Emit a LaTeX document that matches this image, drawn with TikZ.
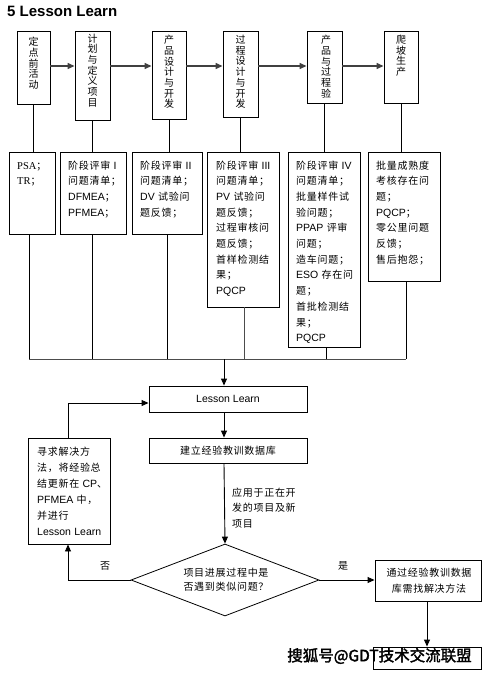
\documentclass[tikz,border=0pt]{standalone}
\usepackage{fontspec}
\setmainfont{Noto Sans CJK SC}[LetterSpace=7]
\newfontfamily\enf{Liberation Sans}
\newfontfamily\tmf{Liberation Serif}
\newfontfamily\wmf{Noto Sans CJK SC}[FakeBold=2]
\usetikzlibrary{arrows.meta,shapes.geometric}
\newcommand\enx[1]{{\enf\fontsize{10.5}{15.7}\selectfont #1}}
\begin{document}
\begin{tikzpicture}[x=1pt,y=-1pt,
  box/.style={draw, line width=0.9pt, inner sep=0pt},
  vtxt/.style={anchor=north, inner sep=0pt, align=center, font=\fontsize{10}{10.7}\selectfont},
  ltxt/.style={anchor=base west, inner sep=0pt, align=left, text width=#1, font=\fontsize{10}{15.7}\selectfont},
  ln/.style={line width=0.9pt},
  arr/.style={line width=0.9pt, -{Triangle[length=7pt,width=6pt]}},
  harr/.style={line width=1.5pt, draw=black!75, -{Triangle[length=7pt,width=6pt]}},
  ctxt/.style={inner sep=0pt, align=center, font=\fontsize{10}{#1}\selectfont},
]
\path[use as bounding box] (0,0) rectangle (488,673);

% title
\node[anchor=base west, inner sep=0pt, font=\enf\bfseries\fontsize{15}{18}\selectfont] (title) at (7,16.5) {5 Lesson Learn};

% top row boxes
\node[box, minimum width=33, minimum height=73] (b1) at (33.5,67.5) {};
\node[box, minimum width=35, minimum height=89] (b2) at (92.5,75.5) {};
\node[box, minimum width=34, minimum height=88] (b3) at (169,75) {};
\node[box, minimum width=35, minimum height=86] (b4) at (240.5,74) {};
\node[box, minimum width=35, minimum height=72] (b5) at (324.5,67) {};
\node[box, minimum width=34, minimum height=72] (b6) at (401,67) {};
\node[vtxt] (t1) at (33.5,37) {定\\点\\前\\活\\动};
\node[vtxt] (t2) at (92.5,33.5) {计\\划\\与\\定\\义\\项\\目};
\node[vtxt] (t3) at (169,35) {产\\品\\设\\计\\与\\开\\发};
\node[vtxt] (t4) at (240.5,35) {过\\程\\设\\计\\与\\开\\发};
\node[vtxt] (t5) at (326,35) {产\\品\\与\\过\\程\\验};
\node[vtxt] (t6) at (401,35) {爬\\坡\\生\\产};

\coordinate (ay) at (0,66);
\draw[harr] (b1.east |- ay) -- (b2.west |- ay);
\draw[harr] (b2.east |- ay) -- (b3.west |- ay);
\draw[harr] (b3.east |- ay) -- (b4.west |- ay);
\draw[harr] (b4.east |- ay) -- (b5.west |- ay);
\draw[harr] (b5.east |- ay) -- (b6.west |- ay);

% second row boxes
\node[box, minimum width=46, minimum height=82] (rA) at (32,193) {};
\node[box, minimum width=66, minimum height=82] (rB) at (93,193) {};
\node[box, minimum width=70, minimum height=82] (rC) at (167,193) {};
\node[box, minimum width=72, minimum height=155] (rD) at (243,229.5) {};
\node[box, minimum width=72, minimum height=195] (rE) at (324,249.5) {};
\node[box, minimum width=72, minimum height=129] (rF) at (404,216.5) {};

\draw[ln] (b1.south) -- (b1.south |- rA.north);
\draw[ln] (b2.south) -- (b2.south |- rB.north);
\draw[ln] (b3.south) -- (b3.south |- rC.north);
\draw[ln] (b4.south) -- (b4.south |- rD.north);
\draw[ln] (b5.south) -- (b5.south |- rE.north);
\draw[ln] (b6.south) -- (b6.south |- rF.north);

\node[ltxt=40] (xA) at (17,169) {{\tmf\fontsize{10.5}{15.7}\selectfont PSA}；\\{\tmf\fontsize{10.5}{15.7}\selectfont TR}；};
\node[ltxt=60] (xB) at (68,169) {阶段评审 \enx{I}\\问题清单；\\\enx{DFMEA}；\\\enx{PFMEA}；};
\node[ltxt=62] (xC) at (140,169) {阶段评审 \enx{II}\\问题清单；\\\enx{DV} 试验问\\题反馈；};
\node[ltxt=62] (xD) at (216,169) {阶段评审 \enx{III}\\问题清单；\\\enx{PV} 试验问\\题反馈；\\过程审核问\\题反馈；\\首样检测结\\果；\\\enx{PQCP}};
\node[ltxt=62] (xE) at (296,169) {阶段评审 \enx{IV}\\问题清单；\\批量样件试\\验问题；\\\enx{PPAP} 评审\\问题；\\造车问题；\\\enx{ESO} 存在问\\题；\\首批检测结\\果；\\\enx{PQCP}};
\node[ltxt=62] (xF) at (376,169) {批量成熟度\\考核存在问\\题；\\\enx{PQCP}；\\零公里问题\\反馈；\\售后抱怨；};

% bus
\coordinate (bus) at (0,359);
\draw[ln] ([xshift=-3pt]rA.south) -- ([xshift=-3pt]rA.south |- bus);
\draw[ln] ([xshift=-1pt]rB.south) -- ([xshift=-1pt]rB.south |- bus);
\draw[ln] (rC.south) -- (rC.south |- bus);
\draw[ln, draw=black!70] ([xshift=1pt]rD.south) -- ([xshift=1pt]rD.south |- bus);
\draw[ln] ([xshift=2pt]rE.south) -- ([xshift=2pt]rE.south |- bus);
\draw[ln] ([xshift=2pt]rF.south) -- ([xshift=2pt]rF.south |- bus);
\draw[ln, draw=black!70] ([xshift=-3pt]rA.south |- bus) -- ([xshift=2pt]rF.south |- bus);

% lower flow
\node[box, minimum width=158, minimum height=26, font=\enf\fontsize{10.5}{12}\selectfont] (LL) at (228,399) {Lesson Learn};
\node[box, minimum width=158, minimum height=25, font=\fontsize{10}{12}\selectfont] (DB) at (228,450.5) {建立经验教训数据库};
\node[box, minimum width=82, minimum height=106] (lb) at (69,491) {};
\node[ltxt=75, font=\fontsize{10}{16}\selectfont] (xl) at (37,455) {寻求解决方\\法，将经验总\\结更新在 \enx{CP}、\\\enx{PFMEA} 中，\\并进行\\\enx{Lesson Learn}};
\node[draw, diamond, aspect=2.6, minimum width=188, minimum height=72, inner sep=0pt, line width=0.8pt] (dia) at (225,580) {};
\node[ctxt=14] (xdia) at (226,580) {项目进展过程中是\\否遇到类似问题？};
\node[box, minimum width=106, minimum height=41] (rb) at (428,580.5) {};
\node[ctxt=16] (xrb) at (429,581) {通过经验教训数据\\库需找解决方法};
\node[box, minimum width=108, minimum height=22] (bb) at (427,658) {};

\node[ltxt=80, font=\fontsize{10}{15.5}\selectfont] (lbl) at (232,496) {应用于正在开\\发的项目及新\\项目};
\node[inner sep=0pt, font=\fontsize{10}{12}\selectfont] (no) at (105,566) {否};
\node[inner sep=0pt, font=\fontsize{10}{12}\selectfont] (yes) at (343,566) {是};

\coordinate (drop) at (224,359);
\draw[arr] (drop) -- (drop |- LL.north);
\draw[arr] (drop |- LL.south) -- (drop |- DB.north);
\draw[arr] (drop |- DB.south) -- (dia.north);

\coordinate (lx) at (68,403);
\draw[arr] (lx |- lb.north) -- (lx) -- (lx -| LL.west);
\draw[arr] (dia.west) -- (dia.west -| lx) -- (lx |- lb.south);
\draw[arr] (dia.east) -- (rb.west |- dia.east);
\draw[arr] ([xshift=-1pt]rb.south) -- ([xshift=-1pt]rb.south |- bb.north);

% watermark
\node[inner sep=0pt, font=\wmf\fontsize{15.5}{18}\selectfont] (wm) at (379.5,656) {搜狐号@GDT技术交流联盟};
\end{tikzpicture}
\end{document}
